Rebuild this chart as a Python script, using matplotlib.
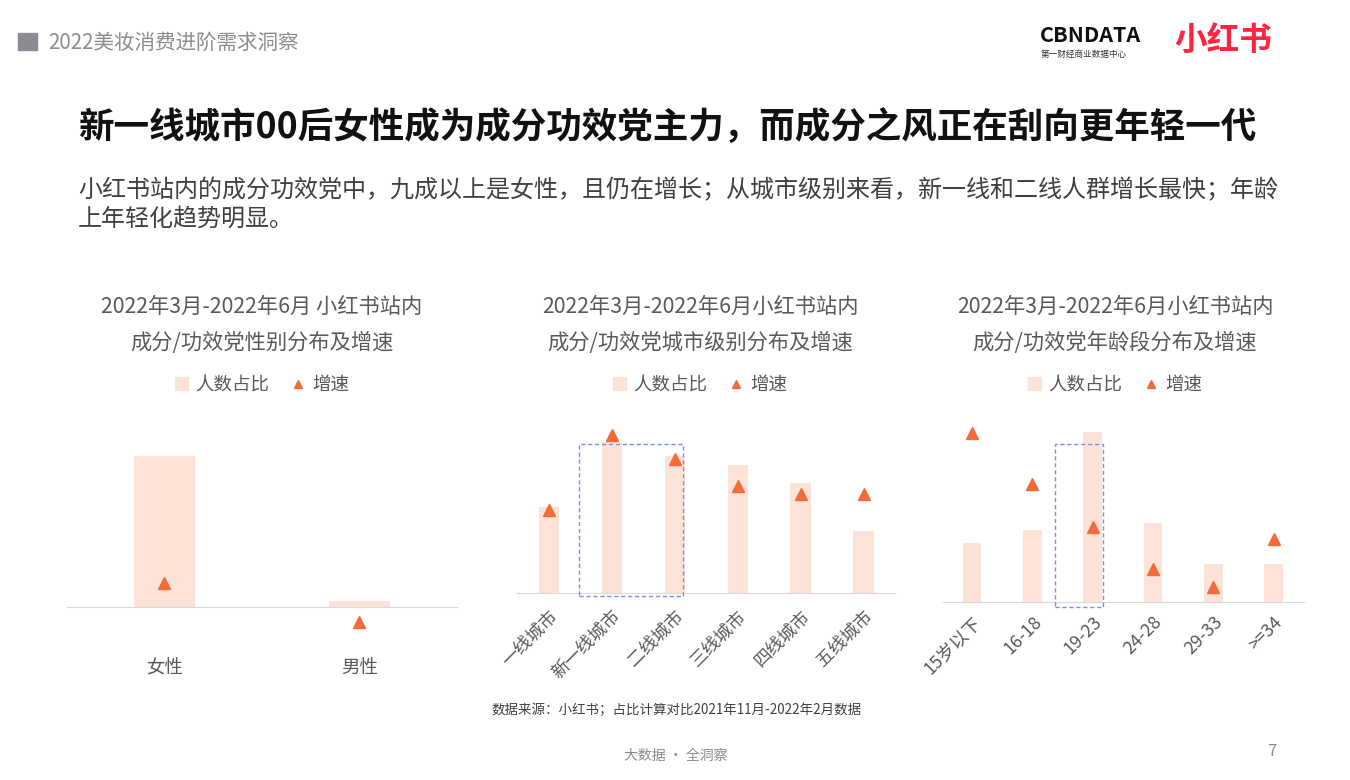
import numpy as np
import matplotlib.pyplot as plt
from matplotlib.patches import Rectangle, Patch
from matplotlib.lines import Line2D

plt.rcParams['font.family'] = ['Noto Sans CJK SC', 'DejaVu Sans']

# data
gender_cats = ['女性', '男性']
gender_share = [96, 4]
gender_growth = [8, -5]

city_cats = ['一线城市', '新一线城市', '二线城市', '三线城市', '四线城市', '五线城市']
city_share = [12.8, 22.4, 20.3, 19.0, 16.3, 9.2]
city_growth = [21, 40, 34, 27, 25, 25]

age_cats = ['15岁以下', '16-18', '19-23', '24-28', '29-33', '>=34']
age_share = [12.9, 15.8, 37.3, 17.3, 8.3, 8.3]
age_growth = [56, 39, 25, 11, 5, 21]

W, H = 1350, 780
BAR = '#fde2d8'
TRI = '#f26b38'
GREY = '#595959'
BOX = '#7f8fd8'

fig = plt.figure(figsize=(W / 100, H / 100), dpi=100)
fig.patch.set_facecolor('white')


def box(x0, y0, x1, y1):
    # pixel box (top-left origin) -> figure fraction
    return [x0 / W, 1 - y1 / H, (x1 - x0) / W, (y1 - y0) / H]


def ftext(x, y, s, **kw):
    kw.setdefault('va', 'center')
    fig.text(x / W, 1 - y / H, s, **kw)


# header
fig.patches.append(Rectangle((18 / W, 1 - 50 / H), 19 / W, 17 / H,
                             transform=fig.transFigure, color='#8e8a93'))
ftext(48, 43, '2022美妆消费进阶需求洞察', fontsize=14.8, color='#8c8c8c')
ftext(1040, 36, 'CBNDATA', fontsize=15.5, fontweight='bold', color='#111111')
ftext(1041, 54, '第一财经商业数据中心', fontsize=6.2, color='#333333')
ftext(1174, 40, '小红书', fontsize=23.5, fontweight='bold', color='#ff2442')

ftext(78, 127, '新一线城市00后女性成为成分功效党主力，而成分之风正在刮向更年轻一代',
      fontsize=25.6, fontweight='bold', color='#111111')
ftext(78, 190, '小红书站内的成分功效党中，九成以上是女性，且仍在增长；从城市级别来看，新一线和二线人群增长最快；年龄',
      fontsize=17.3, color='#404040')
ftext(78, 219, '上年轻化趋势明显。', fontsize=17.3, color='#404040')


def panel(rect, cats, share, growth, xlim, ylim_s, ylim_g, width,
          title1, title2, tcx, rotate, pad, hbox=None):
    ax = fig.add_axes(rect)
    ax.bar(range(len(cats)), share, width=width, color=BAR, zorder=2)
    ax.set_xlim(*xlim)
    ax.set_ylim(0, ylim_s)
    for s in ['top', 'left', 'right']:
        ax.spines[s].set_visible(False)
    ax.spines['bottom'].set_color('#d9d9d9')
    ax.set_yticks([])
    ax.set_xticks(range(len(cats)))
    if rotate:
        ax.set_xticklabels(cats, rotation=45, ha='right', rotation_mode='anchor',
                           fontsize=12.8, color=GREY)
    else:
        ax.set_xticklabels(cats, fontsize=13.3, color=GREY)
    ax.tick_params(axis='x', length=0, pad=pad)

    ax2 = ax.twinx()
    ax2.plot(range(len(cats)), growth, linestyle='none', marker='^', ms=8,
             color=TRI, clip_on=False, zorder=3)
    ax2.set_ylim(0, ylim_g)
    ax2.axis('off')

    if hbox is not None:
        x0, x1, y0, y1 = hbox
        ax.add_patch(Rectangle((x0, y0), x1 - x0, y1 - y0, fill=False,
                               edgecolor=BOX, linestyle=(0, (3, 2)), lw=1,
                               clip_on=False, zorder=4))

    ftext(tcx, 307, title1, fontsize=15.3, color=GREY, ha='center')
    ftext(tcx, 343, title2, fontsize=15.3, color=GREY, ha='center')
    handles = [Patch(color=BAR, label='人数占比'),
               Line2D([], [], linestyle='none', marker='^', ms=6, color=TRI, label='增速')]
    fig.legend(handles=handles, loc='center', bbox_to_anchor=(tcx / W, 1 - 385 / H),
               ncol=2, frameon=False, fontsize=13.3, labelcolor=GREY,
               handlelength=0.7, handleheight=0.7, handletextpad=0.4,
               columnspacing=1.2)
    return ax


panel(box(67, 440, 457, 607), gender_cats, gender_share, gender_growth,
      (-0.5, 1.5), 106.2, 55.7, 0.31,
      '2022年3月-2022年6月 小红书站内', '成分/功效党性别分布及增速', 262,
      False, 38)

panel(box(516, 430, 895, 593), city_cats, city_share, city_growth,
      (-0.52, 5.5), 24.2, 41.3, 0.32,
      '2022年3月-2022年6月小红书站内', '成分/功效党城市级别分布及增速', 700,
      True, 10, hbox=(0.476, 2.13, -0.45, 22.1))

panel(box(943, 425, 1304, 602), age_cats, age_share, age_growth,
      (-0.48, 5.5), 38.8, 58.65, 0.31,
      '2022年3月-2022年6月小红书站内', '成分/功效党年龄段分布及增速', 1115,
      True, 8, hbox=(1.37, 2.17, -1.1, 34.6))

# footer
ftext(677, 710, '数据来源：小红书；占比计算对比2021年11月-2022年2月数据',
      fontsize=9.7, color='#404040', ha='center')
ftext(676, 756, '大数据 · 全洞察', fontsize=10, color='#8c8c8c', ha='center')
ftext(1272, 752, '7', fontsize=12, color='#8c8c8c', ha='center')

fig.savefig('out.png', dpi=100)
